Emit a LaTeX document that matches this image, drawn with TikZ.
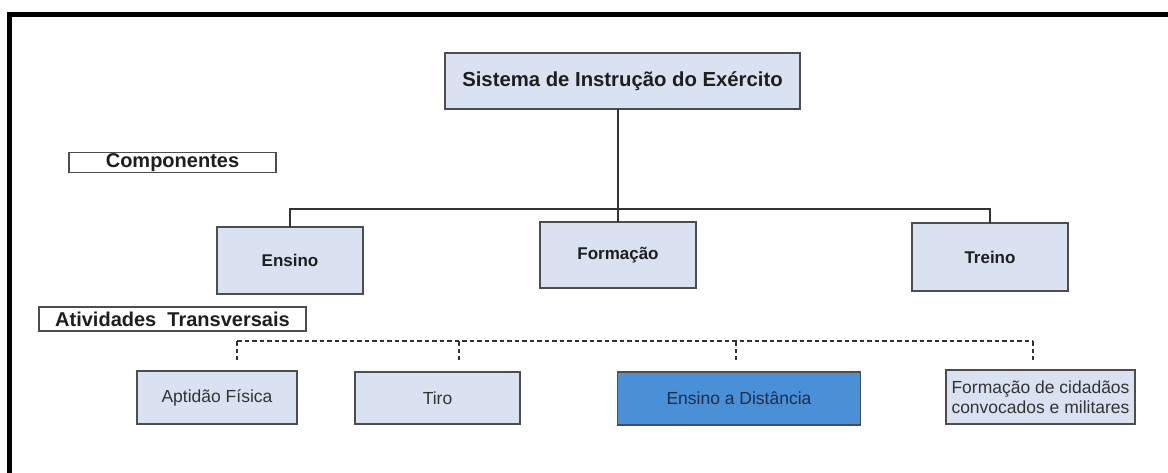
\documentclass[tikz,border=0pt]{standalone}
\usepackage{fontspec}
\setmainfont{Liberation Sans}
\definecolor{boxfill}{HTML}{DAE2F2}
\definecolor{eadfill}{HTML}{4A90D6}
\definecolor{boxline}{HTML}{4D4D4D}
\definecolor{txt}{HTML}{1E1E1E}
\definecolor{txtreg}{HTML}{333333}
\definecolor{eadtxt}{HTML}{1C2E4A}
\begin{document}
\begin{tikzpicture}[x=1pt,y=-1pt,
  box/.style={draw=boxline, line width=1.4pt, fill=boxfill, rectangle, inner sep=0pt, outer sep=0pt, align=center, text=txt},
  headbox/.style={draw=boxline, line width=1.2pt, fill=white, rectangle, inner sep=0pt, outer sep=0pt, text=txt, font=\fontsize{20}{22}\selectfont\bfseries},
  compbox/.style={box, font=\fontsize{17}{20}\selectfont\bfseries},
  actbox/.style={box, text=txtreg, font=\fontsize{17.5}{20}\selectfont},
  conn/.style={draw=black!80, line width=1.3pt},
  dashline/.style={draw=black!80, line width=1.2pt, dash pattern=on 4.5pt off 3pt}
]
\useasboundingbox (0,0) rectangle (1168,473);
\fill[white] (0,0) rectangle (1168,473);
% frame
\draw[line width=5pt, black] (9.5,473) -- (9.5,14.5) -- (1168,14.5);

% top
\node[box, minimum width=355pt, minimum height=56pt, font=\fontsize{20.3}{24}\selectfont\bfseries] (top) at (622.5,81) {Sistema de Instrução do Exército};

% section headers
\node[headbox, minimum width=207pt, minimum height=20pt] (comp) at (172.5,162.5) {Componentes};
\node[headbox, minimum width=267pt, minimum height=24pt] (ativ) at (172.5,319) {Atividades\ \ Transversais};

% components
\node[compbox, minimum width=146pt, minimum height=67pt] (ensino) at (290,260.5) {Ensino};
\node[compbox, minimum width=156pt, minimum height=66pt] (formacao) at (618,255) {Formação};
\node[compbox, minimum width=156pt, minimum height=68pt] (treino) at (990,257) {Treino};

% activities
\node[actbox, minimum width=160pt, minimum height=53pt] (apt) at (217,397.5) {Aptidão Física};
\node[actbox, minimum width=165pt, minimum height=52pt] (tiro) at (437.5,398) {Tiro};
\node[actbox, fill=eadfill, text=eadtxt, minimum width=243pt, minimum height=53pt] (ead) at (739,398.5) {Ensino a Distância};
\node[actbox, minimum width=189pt, minimum height=54pt, font=\fontsize{17.5}{20.5}\selectfont] (fcc) at (1040.5,397) {Formação de cidadãos\\convocados e militares};

% solid connectors
\coordinate (hub) at (618,209);
\draw[conn] (top.south -| formacao.north) -- (formacao.north);
\draw[conn] (ensino.north) |- (hub) -| (treino.north);

% dashed connectors
\coordinate (a1) at (237,341);
\coordinate (a2) at (459,341);
\coordinate (a3) at (736,341);
\coordinate (a4) at (1033,341);
\coordinate (b1) at (237,360);
\coordinate (b2) at (459,360);
\coordinate (b3) at (736,360);
\coordinate (b4) at (1033,360);
\draw[dashline] (a1) -- (a4);
\draw[dashline] (a1) -- (b1);
\draw[dashline] (a2) -- (b2);
\draw[dashline] (a3) -- (b3);
\draw[dashline] (a4) -- (b4);
\end{tikzpicture}
\end{document}
